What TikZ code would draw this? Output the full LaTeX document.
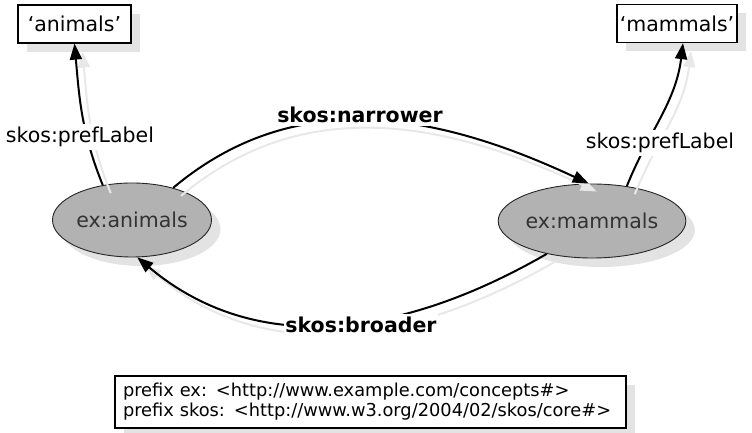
\documentclass[tikz,border=0pt]{standalone}
\usepackage{fontspec}
\setmainfont{DejaVu Sans}
\usetikzlibrary{shapes.geometric,arrows.meta,shadows}
\begin{document}
\begin{tikzpicture}[x=1pt,y=1pt,
  softshadow/.style={drop shadow={shadow xshift=9pt,shadow yshift=-9pt,fill=black!11,opacity=1}},
  lit/.style={draw=black, line width=1.3pt, fill=white, inner sep=0pt,
    minimum height=38pt, font=\fontsize{20.5}{24}\selectfont, softshadow},
  concept/.style={ellipse, draw=black!85, line width=0.9pt, fill=black!30,
    text=black!80, inner sep=0pt, minimum height=74pt,
    font=\fontsize{20.5}{24}\selectfont, softshadow},
  rel/.style={line width=2pt, -{Triangle[length=16pt,width=12pt]}},
  relshadow/.style={line width=2pt, draw=black!9,
    -{Triangle[length=16pt,width=12pt,fill=black!9]},
    transform canvas={shift={(8pt,-8pt)}}},
  lab/.style={fill=white, inner xsep=1pt, inner ysep=3pt,
    font=\fontsize{20.5}{24}\selectfont},
  boldlab/.style={lab, font=\fontsize{20.5}{24}\selectfont\bfseries},
  prefixbox/.style={draw=black, line width=1.3pt, fill=white, inner xsep=8pt,
    inner ysep=0pt, text width=495pt, minimum height=52pt, align=left,
    font=\fontsize{17.8}{20}\selectfont, softshadow}
]
\useasboundingbox (0,0) rectangle (752,433);

% literal values
\node[lit, minimum width=113pt] (an) at (74.5,409) {‘animals’};
\node[lit, minimum width=120pt] (mm) at (677,409.5) {‘mammals’};

% concepts
\node[concept, minimum width=159pt] (ani) at (132,213) {ex:animals};
\node[concept, minimum width=180pt] (mam) at (592,212) {ex:mammals};

% namespace declarations
\node[prefixbox] (ns) at (370.5,31)
  {prefix ex: <http://www.example.com/concepts\#>\\
   prefix skos: <http://www.w3.org/2004/02/skos/core\#>};

% shadows of the relations
\draw[relshadow] (ani.130) to[out=112,in=-85] (an.south);
\draw[relshadow] (mam.45) to[out=68,in=-97] ([xshift=6pt]mm.south);
\draw[relshadow] (ani.38) to[out=40,in=155] (mam.95);
\draw[relshadow] (mam.216) to[out=210,in=-40] (ani.-82);

% relations
\draw[rel] (ani.130) to[out=112,in=-85] (an.south);
\draw[rel] (mam.45) to[out=68,in=-97] ([xshift=6pt]mm.south);
\draw[rel] (ani.38) to[out=40,in=155] (mam.95);
\draw[rel] (mam.216) to[out=210,in=-40] (ani.-82);

% relation labels
\node[lab] (lpl) at (80,296) {skos:prefLabel};
\node[lab] (rpl) at (660,290) {skos:prefLabel};
\node[boldlab] (nar) at (360,318) {skos:narrower};
\node[boldlab] (bro) at (361,108) {skos:broader};
\end{tikzpicture}
\end{document}
